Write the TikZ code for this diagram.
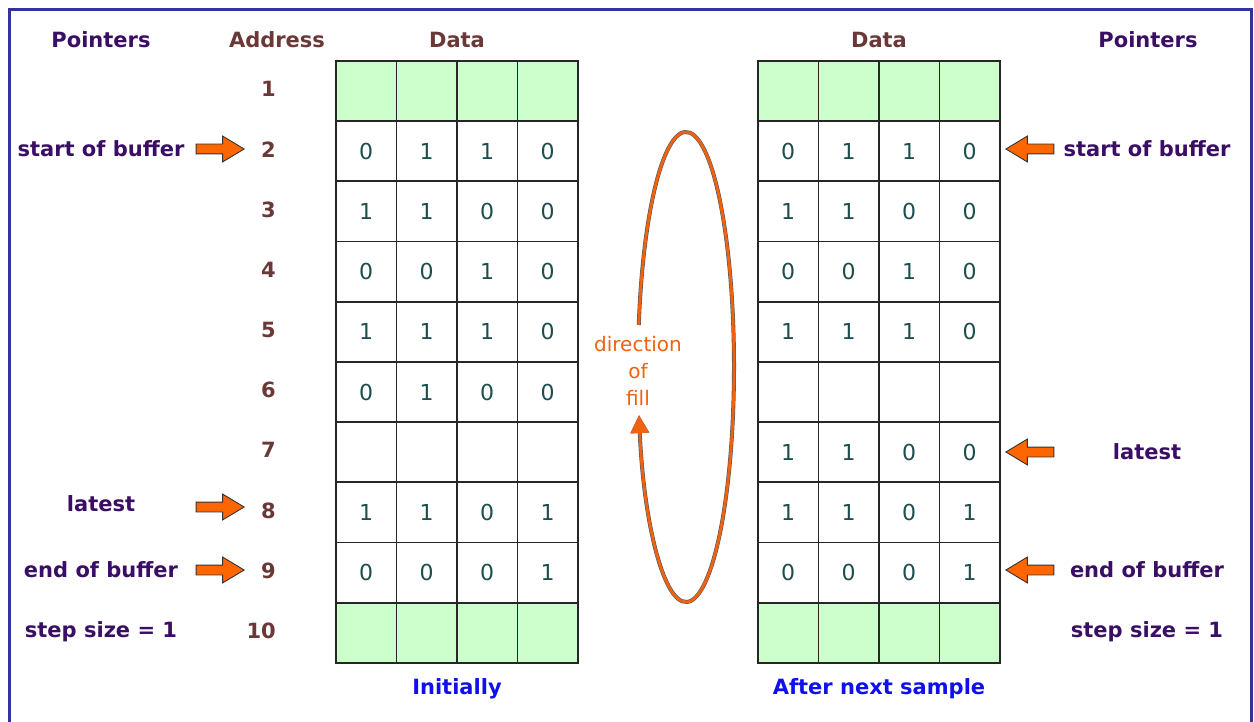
\documentclass[tikz,border=0pt]{standalone}
\usepackage{fontspec}
\setmainfont{DejaVu Sans}
\usetikzlibrary{shapes.arrows,arrows.meta}
\definecolor{framecol}{HTML}{33339A}
\definecolor{ptrcol}{HTML}{3A0E64}
\definecolor{addrcol}{HTML}{6B3838}
\definecolor{cellcol}{HTML}{1E4D4D}
\definecolor{orangec}{HTML}{FF6600}
\definecolor{fillorange}{HTML}{EE6210}
\definecolor{greenc}{HTML}{CCFFCC}
\definecolor{captcol}{HTML}{1010EE}
\tikzset{
  cell/.style={draw=black!85, line width=1.8pt, minimum width=60.5pt, minimum height=60.2pt, inner sep=0pt, anchor=north west},
  digit/.style={text=cellcol, font=\fontsize{22}{26}\selectfont, inner sep=0pt},
  addr/.style={text=addrcol, font=\bfseries\fontsize{21}{24}\selectfont, inner sep=0pt, anchor=east},
  hdr/.style={font=\bfseries\fontsize{21}{24}\selectfont, inner sep=0pt},
  ptr/.style={text=ptrcol, font=\bfseries\fontsize{21}{24}\selectfont, inner sep=0pt},
  capt/.style={text=captcol, font=\bfseries\fontsize{21}{24}\selectfont, inner sep=0pt},
  blockarrow/.style={single arrow, fill=orangec, draw=black!80, line width=0.9pt, inner sep=4.5pt,
     minimum height=48pt, single arrow head extend=8pt, single arrow tip angle=62},
}
\begin{document}
\begin{tikzpicture}[x=1pt,y=-1pt]
\useasboundingbox (0,0) rectangle (1254,722);
% frame
\draw[framecol, line width=3pt] (9.5,722) -- (9.5,10) -- (1251,10) -- (1251,722);
% green rows
\foreach \x in {335,757} {
  \fill[greenc] (\x,60) rectangle ++(242,60.2);
  \fill[greenc] (\x,601.8) rectangle ++(242,60.2);
}
% cells
\foreach \side/\x in {L/335,R/757} {
  \foreach \r in {1,...,10} {
    \foreach \c in {1,...,4} {
      \node[cell] (\side-\r-\c) at ({\x+(\c-1)*60.5},{60+(\r-1)*60.2}) {};
    }
  }
}
% left data
\foreach \r/\a/\b/\c/\d in {2/0/1/1/0,3/1/1/0/0,4/0/0/1/0,5/1/1/1/0,6/0/1/0/0,8/1/1/0/1,9/0/0/0/1} {
  \node[digit] (dL-\r-1) at (L-\r-1) {\a};
  \node[digit] (dL-\r-2) at (L-\r-2) {\b};
  \node[digit] (dL-\r-3) at (L-\r-3) {\c};
  \node[digit] (dL-\r-4) at (L-\r-4) {\d};
}
% right data
\foreach \r/\a/\b/\c/\d in {2/0/1/1/0,3/1/1/0/0,4/0/0/1/0,5/1/1/1/0,7/1/1/0/0,8/1/1/0/1,9/0/0/0/1} {
  \node[digit] (dR-\r-1) at (R-\r-1) {\a};
  \node[digit] (dR-\r-2) at (R-\r-2) {\b};
  \node[digit] (dR-\r-3) at (R-\r-3) {\c};
  \node[digit] (dR-\r-4) at (R-\r-4) {\d};
}
% addresses
\foreach \r in {1,...,10} {
  \node[addr] (A\r) at (276,{60+(\r-0.5)*60.2-1}) {\r};
}
% headers
\node[hdr, text=ptrcol] (hP1) at (101,40) {Pointers};
\node[hdr, text=addrcol] (hA) at (277,40) {Address};
\node[hdr, text=addrcol] (hD1) at (457,40) {Data};
\node[hdr, text=addrcol] (hD2) at (879,40) {Data};
\node[hdr, text=ptrcol] (hP2) at (1148,40) {Pointers};
% left pointers
\node[ptr] (lsb) at (101,149) {start of buffer};
\node[ptr] (llt) at (101,504) {latest};
\node[ptr] (leb) at (101,570) {end of buffer};
\node[ptr] (lss) at (101,632) {step size = 1};
\node[blockarrow] (la1) at (216,149) {};
\node[blockarrow] (la2) at (216,507) {};
\node[blockarrow] (la3) at (216,570) {};
% right pointers
\node[ptr] (rsb) at (1147,149) {start of buffer};
\node[ptr] (rlt) at (1147,452) {latest};
\node[ptr] (reb) at (1147,570) {end of buffer};
\node[ptr] (rss) at (1147,632) {step size = 1};
\node[blockarrow, shape border rotate=180] (ra1) at (1034,149) {};
\node[blockarrow, shape border rotate=180] (ra2) at (1034,452) {};
\node[blockarrow, shape border rotate=180] (ra3) at (1034,570) {};
% captions
\node[capt] (c1) at (457,689) {Initially};
\node[capt] (c2) at (879,689) {After next sample};
% direction of fill
\coordinate (ec) at (686,367);
\draw[fillorange, line width=2.8pt, -{Triangle[length=18pt,width=18pt]},
      preaction={draw=black!65, line width=4pt, -{Triangle[length=18pt,width=18pt]}}]
  (ec) ++(190.3:48 and 235) arc[start angle=190.3, end angle=528.2, x radius=48, y radius=235];
\node[text=fillorange, font=\fontsize{20}{27}\selectfont, align=center, inner sep=0pt] (dof) at (638,371) {direction\\of\\fill};
\end{tikzpicture}
\end{document}
